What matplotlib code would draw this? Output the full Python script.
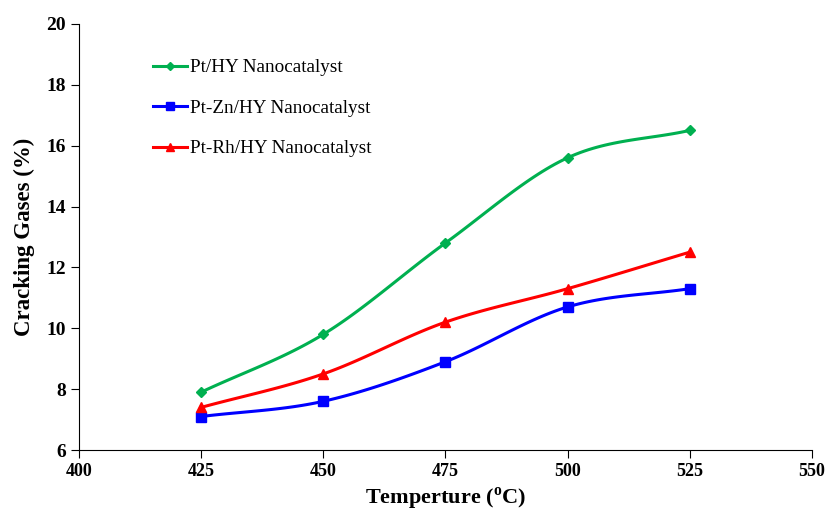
import numpy as np
import matplotlib
matplotlib.use('Agg')
import matplotlib.pyplot as plt

temps = [425, 450, 475, 500, 525]
pt_hy = [7.9, 9.8, 12.8, 15.6, 16.5]
pt_zn_hy = [7.1, 7.6, 8.9, 10.7, 11.3]
pt_rh_hy = [7.4, 8.5, 10.2, 11.3, 12.5]

plt.rcParams['font.family'] = 'Liberation Serif'
plt.rcParams['mathtext.fontset'] = 'custom'
plt.rcParams['mathtext.rm'] = 'Liberation Serif'
plt.rcParams['mathtext.bf'] = 'Liberation Serif:bold'


def smooth(x, y, n=30):
	# catmull-rom curve through the points, like excel's smoothed line
	x = np.asarray(x, float)
	y = np.asarray(y, float)
	px = np.concatenate([[2*x[0]-x[1]], x, [2*x[-1]-x[-2]]])
	py = np.concatenate([[2*y[0]-y[1]], y, [2*y[-1]-y[-2]]])
	xs, ys = [], []
	t = np.linspace(0, 1, n)
	for i in range(1, len(px)-2):
		for p, out in ((px, xs), (py, ys)):
			p0, p1, p2, p3 = p[i-1], p[i], p[i+1], p[i+2]
			out.extend(0.5*((2*p1) + (-p0+p2)*t + (2*p0-5*p1+4*p2-p3)*t**2 + (-p0+3*p1-3*p2+p3)*t**3))
	return xs, ys


fig = plt.figure(figsize=(8.28, 5.14), dpi=100)
ax = fig.add_axes([0.0954, 0.1245, 0.885, 0.829])

series = [
	(pt_hy, '#00B050', 'D', 5, 'Pt/HY Nanocatalyst'),
	(pt_zn_hy, '#0000FF', 's', 7, 'Pt-Zn/HY Nanocatalyst'),
	(pt_rh_hy, '#FF0000', '^', 7, 'Pt-Rh/HY Nanocatalyst'),
]
for vals, c, m, ms, lab in series:
	sx, sy = smooth(temps, vals)
	ax.plot(sx, sy, color=c, lw=2.2)
	ax.plot(temps, vals, color=c, lw=0, marker=m, markersize=ms)
	ax.plot([], [], color=c, lw=2.2, marker=m, markersize=ms, label=lab)

ax.set_xlim(400, 550)
ax.set_ylim(6, 20)
ax.set_xticks(range(400, 551, 25))
ax.set_yticks(range(6, 21, 2))
ax.spines['top'].set_visible(False)
ax.spines['right'].set_visible(False)
ax.tick_params(direction='out', length=6, labelsize=14)
ax.tick_params(axis='x', labelsize=13)
for lbl in ax.get_xticklabels() + ax.get_yticklabels():
	lbl.set_fontweight('bold')
ax.set_xlabel('Temperture ($^{\\mathbf{o}}$C)', fontsize=16, fontweight='bold', labelpad=4)
ax.set_ylabel('Cracking Gases (%)', fontsize=16.5, fontweight='bold', labelpad=8)

ax.legend(loc='upper left', bbox_to_anchor=(0.078, 0.958), frameon=False, fontsize=13.8,
	handlelength=1.75, handletextpad=0.15, labelspacing=1.2, markerscale=0.9)

fig.savefig('out.png', dpi=100)
